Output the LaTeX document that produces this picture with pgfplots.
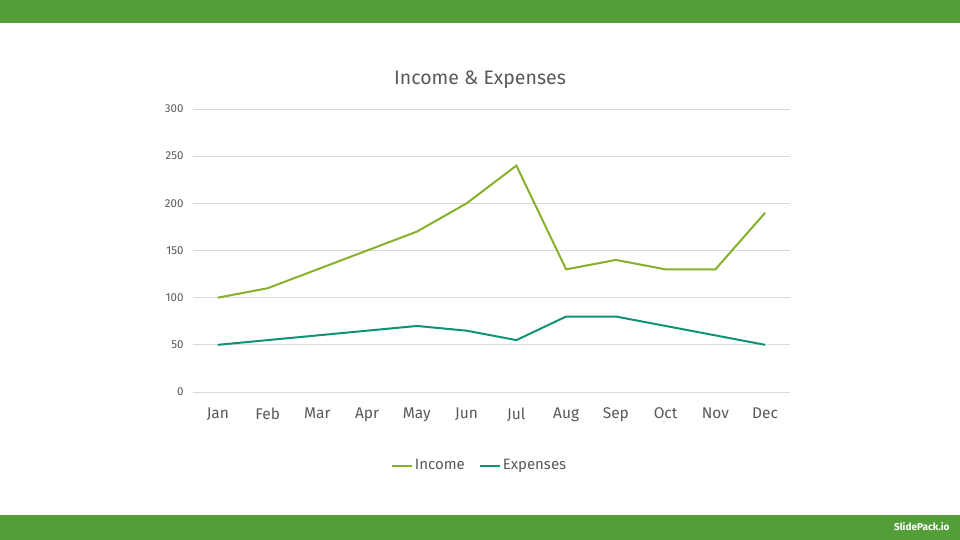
\documentclass[border=0pt]{standalone}
\usepackage{pgfplots}
\pgfplotsset{compat=1.18}
\usepackage{fontspec}
\setmainfont{Fira Sans}
\definecolor{barg}{HTML}{539E38}
\definecolor{incg}{HTML}{86B22B}
\definecolor{expg}{HTML}{0F9473}
\definecolor{txtg}{HTML}{595959}
\definecolor{gridg}{HTML}{D9D9D9}
\begin{document}
\begin{tikzpicture}[x=1pt,y=1pt]
\fill[white] (0,0) rectangle (960,540);
\fill[barg] (0,517) rectangle (960,540);
\fill[barg] (0,0) rectangle (960,25);
\node[white, font=\bfseries\fontsize{10}{12}\selectfont, anchor=east] at (953,13) {SlidePack.io};
\node[txtg, font=\fontsize{19.5}{22}\selectfont] at (480,460) {Income \& Expenses};
\begin{axis}[
  at={(193pt,148pt)}, anchor=south west, scale only axis,
  width=597pt, height=283pt,
  xmin=-0.5, xmax=11.5, ymin=0, ymax=300,
  ytick={0,50,...,300}, xtick={0,...,11},
  xticklabels={Jan,Feb,Mar,Apr,May,Jun,Jul,Aug,Sep,Oct,Nov,Dec},
  axis line style={draw=none}, major tick length=0pt,
  ymajorgrids, grid style={gridg, line width=0.8pt},
  /pgf/number format/assume math mode=true,
  xticklabel style={font=\fontsize{15.5}{17}\selectfont, text=txtg, anchor=north, yshift=-12pt},
  yticklabel style={font=\fontsize{11.5}{13}\selectfont, text=txtg, anchor=east, xshift=-6pt},
  legend style={at={(0.48,-0.26)}, anchor=center, draw=none, fill=none,
    font=\fontsize{15}{17}\selectfont, text=txtg, legend columns=2,
    /tikz/every even column/.append style={column sep=12pt}},
  legend image code/.code={\draw[#1] (0pt,0pt) -- (20pt,0pt);},
  legend cell align=left,
]
\addplot[incg, line width=2pt] coordinates {(0,100)(1,110)(2,130)(3,150)(4,170)(5,200)(6,240)(7,130)(8,140)(9,130)(10,130)(11,190)};
\addlegendentry{Income}
\addplot[expg, line width=2pt] coordinates {(0,50)(1,55)(2,60)(3,65)(4,70)(5,65)(6,55)(7,80)(8,80)(9,70)(10,60)(11,50)};
\addlegendentry{Expenses}
\end{axis}
\end{tikzpicture}
\end{document}
